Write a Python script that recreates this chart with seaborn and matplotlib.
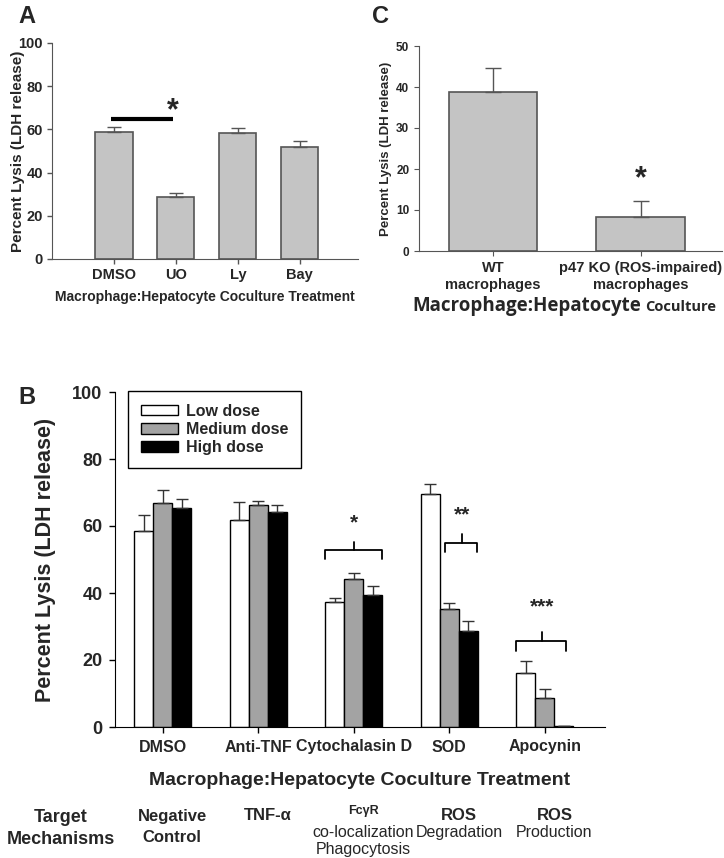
import matplotlib

matplotlib.use("Agg")

import matplotlib.pyplot as plt
import matplotlib.transforms as mtransforms
import numpy as np
import pandas as pd
import seaborn as sns

# Panel A data
a_treatments = ["DMSO", "UO", "Ly", "Bay"]
a_lysis = [58.9, 28.5, 58.2, 51.8]
a_err = [2.0, 2.0, 2.4, 2.7]

# Panel C data
c_groups = ["WT\nmacrophages", "p47 KO (ROS-impaired)\nmacrophages"]
c_lysis = [38.7, 8.3]
c_err = [6.0, 3.9]

# Panel B data
b_treatments = ["DMSO", "Anti-TNF", "Cytochalasin D", "SOD", "Apocynin"]
b_doses = ["Low dose", "Medium dose", "High dose"]
b_low = [58.4, 61.8, 37.3, 69.7, 16.1]
b_med = [66.8, 66.4, 44.2, 35.3, 8.6]
b_high = [65.5, 64.3, 39.3, 28.7, 0.4]
b_low_err = [4.8, 5.5, 1.2, 2.7, 3.5]
b_med_err = [3.8, 1.1, 1.9, 1.8, 2.6]
b_high_err = [2.7, 1.9, 2.8, 3.0, 0.0]
b_mech_top = ["Negative", "TNF-α", "FcγR", "ROS", "ROS"]
b_mech_bottom = ["Control", "", "co-localization\nPhagocytosis", "Degradation", "Production"]

# significance marks: (group, left, right, peak, y_end, y_bar, y_peak, y_text, label)
b_sig = [
    (2, -0.30, 0.30, 0.00, 50.1, 52.8, 55.2, 61.0, "*"),
    (3, -0.04, 0.29, 0.13, 52.3, 55.0, 57.6, 63.3, "**"),
    (4, -0.30, 0.22, -0.03, 22.8, 25.8, 28.5, 35.8, "***"),
]

BAR_GREY = "#c4c4c4"
EDGE_GREY = "#555555"
DOSE_COLORS = ["white", "#a3a3a3", "black"]

sns.set_style("ticks")
plt.rcParams["font.family"] = ["Liberation Sans", "DejaVu Sans"]
plt.rcParams["font.weight"] = "bold"

W, H = 724, 858
fig = plt.figure(figsize=(W / 100, H / 100), dpi=100)


def px_axes(left, top, right, bottom):
    return fig.add_axes([left / W, 1 - bottom / H, (right - left) / W, (bottom - top) / H])


def upper_errorbars(ax, bars, errs, color, capsize, lw=1.0):
    xs = [b.get_x() + b.get_width() / 2 for b in bars]
    ys = [b.get_height() for b in bars]
    ax.errorbar(xs, ys, yerr=[np.zeros(len(errs)), errs], fmt="none",
                ecolor=color, elinewidth=lw, capsize=capsize, capthick=lw, zorder=1)


# ---------------- Panel A ----------------
axA = px_axes(52, 43, 358, 259)
dfA = pd.DataFrame({"treatment": a_treatments, "lysis": a_lysis})
sns.barplot(data=dfA, x="treatment", y="lysis", color=BAR_GREY, width=0.6,
            edgecolor=EDGE_GREY, linewidth=1.2, saturation=1, errorbar=None, ax=axA)
upper_errorbars(axA, axA.patches, a_err, EDGE_GREY, 5)
axA.set_xlim(-1.0, 3.94)
axA.set_ylim(0, 100)
axA.set_yticks(range(0, 101, 20))
axA.plot([-0.04, 0.96], [64.8, 64.8], color="black", lw=3, solid_capstyle="butt")
axA.text(0.95, 68.3, "*", ha="center", va="center", fontsize=22, fontweight="bold")
axA.set_xlabel("Macrophage:Hepatocyte Coculture Treatment", fontsize=10, fontweight="bold")
axA.set_ylabel("Percent Lysis (LDH release)", fontsize=11, fontweight="bold")
axA.xaxis.set_label_coords(0.5, -0.145)
axA.yaxis.set_label_coords(-0.088, 0.5)
axA.tick_params(labelsize=10.5, length=3.5, width=1, color=EDGE_GREY, pad=3)
for lab in axA.get_xticklabels() + axA.get_yticklabels():
    lab.set_fontweight("bold")
sns.despine(ax=axA)
for s in ["left", "bottom"]:
    axA.spines[s].set_color(EDGE_GREY)
fig.text(18 / W, 1 - 5 / H, "A", fontsize=17, fontweight="bold", va="top", ha="left")

# ---------------- Panel C ----------------
axC = px_axes(419, 46, 722, 251)
dfC = pd.DataFrame({"group": c_groups, "lysis": c_lysis})
sns.barplot(data=dfC, x="group", y="lysis", color=BAR_GREY, width=0.6,
            edgecolor=EDGE_GREY, linewidth=1.2, saturation=1, errorbar=None, ax=axC)
upper_errorbars(axC, axC.patches, c_err, EDGE_GREY, 6)
axC.set_xlim(-0.5, 1.55)
axC.set_ylim(0, 50)
axC.set_yticks(range(0, 51, 10))
axC.text(1, 17.6, "*", ha="center", va="center", fontsize=22, fontweight="bold")
axC.set_xlabel("")
axC.set_ylabel("Percent Lysis (LDH release)", fontsize=9.5, fontweight="bold")
axC.yaxis.set_label_coords(-0.089, 0.5)
axC.tick_params(axis="y", labelsize=8.5, length=3.5, color=EDGE_GREY)
axC.tick_params(axis="x", labelsize=10.5, length=3.5, color=EDGE_GREY, pad=4)
for lab in axC.get_xticklabels() + axC.get_yticklabels():
    lab.set_fontweight("bold")
sns.despine(ax=axC)
for s in ["left", "bottom"]:
    axC.spines[s].set_color(EDGE_GREY)

# x label of C: two parts in different sizes sharing one baseline
c_base = 1 - 311 / H
tC = fig.text(412 / W, c_base, "Macrophage:Hepatocyte", fontsize=13.5,
              fontweight="bold", family=["Open Sans", "DejaVu Sans"], va="baseline", ha="left")
fig.canvas.draw()
c_right = fig.transFigure.inverted().transform(
    (tC.get_window_extent().x1, 0))[0]
fig.text(c_right + 4 / W, c_base, "Coculture", fontsize=10.5, fontweight="bold",
         family=["Open Sans", "DejaVu Sans"], va="baseline", ha="left")
fig.text(372 / W, 1 - 5 / H, "C", fontsize=17, fontweight="bold", va="top", ha="left")

# ---------------- Panel B ----------------
axB = px_axes(115, 392, 605, 727)
dfB = pd.DataFrame({
    "treatment": b_treatments * 3,
    "dose": np.repeat(b_doses, len(b_treatments)),
    "lysis": b_low + b_med + b_high,
})
sns.barplot(data=dfB, x="treatment", y="lysis", hue="dose", hue_order=b_doses,
            palette=DOSE_COLORS, width=0.6, edgecolor="black", linewidth=1.0,
            saturation=1, errorbar=None, ax=axB)
for cont, errs in zip(axB.containers, [b_low_err, b_med_err, b_high_err]):
    upper_errorbars(axB, cont, errs, "#333333", 4.5)
axB.set_xlim(-0.5, 4.63)
axB.set_ylim(0, 100)
axB.set_yticks(range(0, 101, 20))

for gi, x0, x1, xm, y_end, y_bar, y_peak, y_txt, lab in b_sig:
    axB.plot([gi + x0, gi + x0, gi + x1, gi + x1], [y_end, y_bar, y_bar, y_end],
             color="black", lw=1.3)
    axB.plot([gi + xm, gi + xm], [y_bar, y_peak], color="black", lw=1.3)
    axB.text(gi + xm, y_txt, lab, ha="center", va="center", fontsize=15, fontweight="bold")

leg = axB.legend(loc="upper left", bbox_to_anchor=(0.027, 1.003), borderaxespad=0,
                 fontsize=11.5, frameon=True, fancybox=False, framealpha=1,
                 handlelength=2.3, handleheight=0.65, handletextpad=0.5,
                 labelspacing=0.2, borderpad=0.8)
leg.get_frame().set_edgecolor("black")
leg.get_frame().set_linewidth(1.0)
for t in leg.get_texts():
    t.set_fontweight("bold")

axB.set_xlabel("Macrophage:Hepatocyte Coculture Treatment", fontsize=14, fontweight="bold")
axB.set_ylabel("Percent Lysis (LDH release)", fontsize=15.5, fontweight="bold")
axB.xaxis.set_label_coords(0.5, -0.135)
axB.yaxis.set_label_coords(-0.12, 0.5)
axB.tick_params(axis="y", labelsize=13, length=4, width=1, color="black", pad=5)
axB.tick_params(axis="x", labelsize=11.5, length=4, width=1, color="black", pad=5)
for lab in axB.get_xticklabels() + axB.get_yticklabels():
    lab.set_fontweight("bold")
sns.despine(ax=axB)
for s in ["left", "bottom"]:
    axB.spines[s].set_color("black")
fig.text(18 / W, 1 - 398 / H, "B", fontsize=17, fontweight="bold", va="center", ha="left")

# target mechanisms row under panel B
mech_tr = mtransforms.blended_transform_factory(axB.transData, fig.transFigure)
fig.text(61 / W, 1 - 817 / H, "Target", fontsize=13, fontweight="bold", ha="center", va="center")
fig.text(61 / W, 1 - 840 / H, "Mechanisms", fontsize=13, fontweight="bold", ha="center", va="center")
for i, (top, bottom) in enumerate(zip(b_mech_top, b_mech_bottom)):
    small = top == "FcγR"
    axB.text(i + 0.1, 1 - (811 if small else 816) / H, top, transform=mech_tr,
             ha="center", va="center", fontsize=9 if small else 12, fontweight="bold")
    if bottom == "Control":
        axB.text(i + 0.1, 1 - 837 / H, bottom, transform=mech_tr, ha="center", va="center",
                 fontsize=12, fontweight="bold")
    elif bottom:
        axB.text(i + 0.1, 1 - 825 / H, bottom, transform=mech_tr, ha="center", va="top",
                 fontsize=11.5, fontweight="normal", linespacing=1.2)

fig.savefig("out.png", dpi=100)
